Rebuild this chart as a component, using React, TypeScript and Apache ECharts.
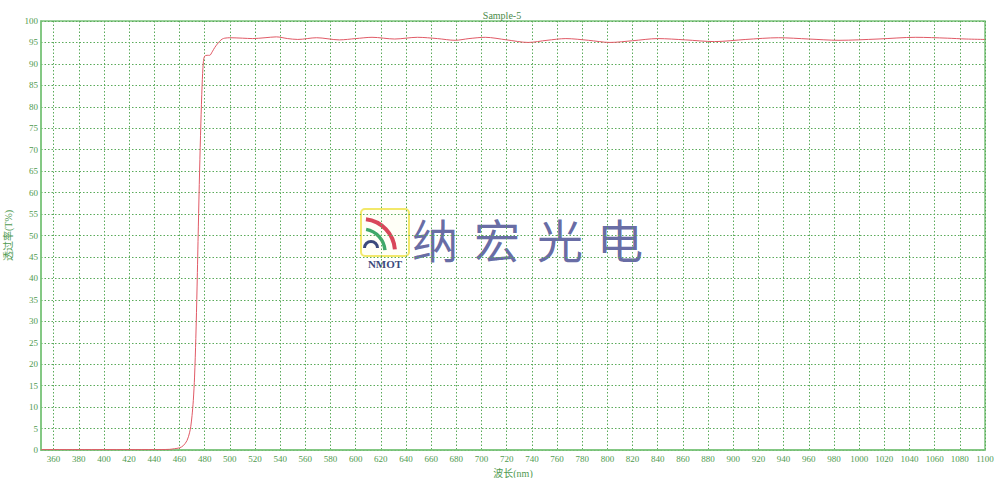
import React, { useEffect, useRef } from "react";
import * as echarts from "echarts";

const titleText = "Sample-5";
const xName = "波长(nm)";
const yName = "透过率(T%)";

const xTickValues = [360, 380, 400, 420, 440, 460, 480, 500, 520, 540, 560, 580, 600, 620, 640, 660, 680, 700, 720, 740, 760, 780, 800, 820, 840, 860, 880, 900, 920, 940, 960, 980, 1000, 1020, 1040, 1060, 1080, 1100];

const wavelength = [350, 360, 380, 400, 420, 440, 452, 456, 460, 463, 466, 468, 469, 470, 471, 472, 473, 474, 475, 476, 477, 478, 479, 480, 482, 484, 486, 488, 490, 492, 494, 496, 500, 510, 518, 528, 537, 546, 554, 569, 587, 600, 613, 631, 649, 665, 679, 690, 703, 720, 737, 752, 767, 785, 802, 820, 840, 862, 885, 910, 936, 960, 984, 1015, 1045, 1070, 1085, 1100];
const transmittance = [0.1, 0.1, 0.1, 0.1, 0.1, 0.1, 0.15, 0.3, 0.5, 1.0, 2.2, 4.0, 5.5, 8, 11.5, 17, 26, 38, 52, 65, 76, 85, 90.5, 91.8, 92.0, 92.0, 92.8, 93.8, 94.6, 95.3, 95.8, 96.0, 96.1, 96.0, 95.9, 96.1, 96.3, 95.9, 95.7, 96.1, 95.6, 95.9, 96.2, 95.8, 96.2, 95.9, 95.5, 95.9, 96.2, 95.6, 95.0, 95.5, 95.9, 95.5, 95.0, 95.4, 95.9, 95.6, 95.2, 95.7, 96.1, 95.8, 95.5, 95.8, 96.2, 96.0, 95.8, 95.7];

const watermarkChars = ["纳", "宏", "光", "电"];

const GREEN_TEXT = "#4f9a4f";
const GREEN_LINE = "#7cc47c";
const GRID_DOT = "#5aaa5a";
const FONT = "'Liberation Serif', 'Noto Sans CJK SC', serif";

export default function App() {
  const ref = useRef<HTMLDivElement>(null);

  useEffect(() => {
    if (!ref.current) return;
    const chart = echarts.init(ref.current, null, { renderer: "svg" });
    const data = wavelength.map((w, i) => [w, transmittance[i]]);
    const charX = [435, 497, 560, 620];
    const option: any = {
      animation: false,
      backgroundColor: "#ffffff",
      title: {
        text: titleText,
        left: 497,
        top: 5,
        textAlign: "center",
        textStyle: { color: "#4a8a4a", fontSize: 10, fontWeight: "normal", fontFamily: FONT },
      },
      grid: {
        left: 41,
        right: 15,
        top: 21,
        bottom: 28,
        show: true,
        borderColor: GREEN_LINE,
        borderWidth: 1.5,
        outerBoundsMode: "none",
        containLabel: false,
      },
      xAxis: {
        type: "value",
        min: 350,
        max: 1100,
        name: xName,
        nameLocation: "middle",
        nameGap: 18,
        nameTextStyle: { color: GREEN_TEXT, fontSize: 10, fontFamily: FONT },
        axisLine: { show: true, lineStyle: { color: GREEN_LINE, width: 1.5 } },
        axisTick: { show: false, customValues: xTickValues },
        axisLabel: {
          customValues: xTickValues,
          formatter: (v: number) => String(v),
          color: GREEN_TEXT,
          fontSize: 9,
          fontFamily: FONT,
          margin: 4,
        },
        splitLine: { show: true, lineStyle: { color: GRID_DOT, type: [1.5, 2], width: 1 } },
      },
      yAxis: {
        type: "value",
        min: 0,
        max: 100,
        interval: 5,
        name: yName,
        nameLocation: "middle",
        nameRotate: 90,
        nameGap: 28,
        nameTextStyle: { color: GREEN_TEXT, fontSize: 10, fontFamily: FONT },
        axisLine: { show: true, lineStyle: { color: GREEN_LINE, width: 1.5 } },
        axisTick: { show: false },
        axisLabel: {
          color: GREEN_TEXT,
          fontSize: 9,
          fontFamily: FONT,
          margin: 3,
          padding: [0, 0, 5, 0],
        },
        splitLine: { show: true, lineStyle: { color: GRID_DOT, type: [1.5, 2], width: 1 } },
      },
      graphic: [
        {
          type: "group",
          z: 100,
          children: [
            {
              type: "rect",
              shape: { x: 361, y: 209, width: 48, height: 47, r: 4 },
              style: { fill: "rgba(255,255,235,0.4)", stroke: "#f2e86a", lineWidth: 2 },
            },
            {
              type: "arc",
              shape: { cx: 362, cy: 252, r: 33, startAngle: -Math.PI / 2 + 0.12, endAngle: -0.08, clockwise: true },
              style: { stroke: "#d9475a", lineWidth: 4, fill: "none" },
            },
            {
              type: "arc",
              shape: { cx: 362, cy: 252, r: 23, startAngle: -Math.PI / 2 + 0.18, endAngle: -0.08, clockwise: true },
              style: { stroke: "#3fa86a", lineWidth: 3.5, fill: "none" },
            },
            {
              type: "arc",
              shape: { cx: 371, cy: 248, r: 6.5, startAngle: Math.PI, endAngle: 2 * Math.PI, clockwise: true },
              style: { stroke: "#3c4a7c", lineWidth: 3, fill: "none" },
            },
            {
              type: "text",
              x: 385,
              y: 264,
              style: {
                text: "NMOT",
                fill: "#3c4a7c",
                font: "bold 11px 'Liberation Serif', serif",
                align: "center",
                verticalAlign: "middle",
              },
            },
            ...watermarkChars.map((c, i) => ({
              type: "text",
              x: charX[i],
              y: 238,
              style: {
                text: c,
                fill: "rgba(96,100,160,0.95)",
                font: "normal 46px 'Noto Sans CJK SC', sans-serif",
                align: "center",
                verticalAlign: "middle",
              },
            })),
          ],
        },
      ],
      series: [
        {
          type: "line",
          data,
          showSymbol: false,
          smooth: 0.3,
          lineStyle: { color: "#e05a66", width: 1 },
          z: 5,
        },
      ],
    };
    chart.setOption(option);
    return () => chart.dispose();
  }, []);

  return (
    <div
      ref={ref}
      style={{ position: "fixed", left: 0, top: 0, width: 1000, height: 478 }}
    />
  );
}
